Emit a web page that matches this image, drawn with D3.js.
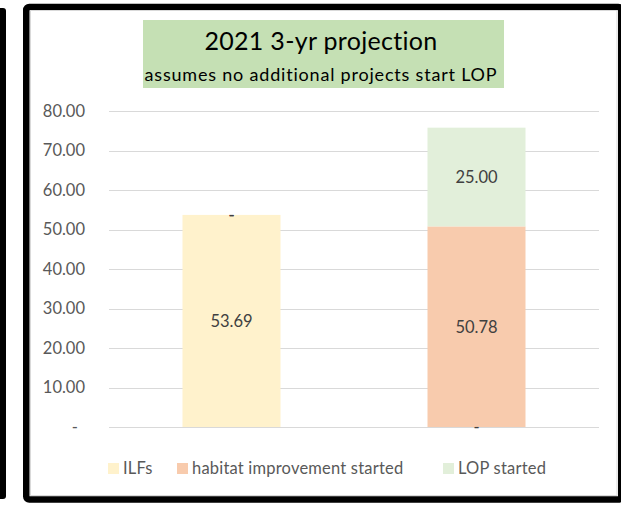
<!DOCTYPE html>
<html><head><meta charset="utf-8">
<script src="https://cdn.jsdelivr.net/npm/d3@7"></script>
<style>
html,body{margin:0;padding:0;background:#fff;}
svg{display:block;font-family:Lato, "Open Sans", sans-serif;}
</style></head>
<body>
<svg id="chart" width="621" height="506"></svg>
<script>
const categories = ["2021", "3-yr projection"];
const seriesNames = ["ILFs", "habitat improvement started", "LOP started"];
const ilfs = [53.69, 0];
const habitat = [0, 50.78];
const lop = [0, 25.00];
const yTicks = [0, 10, 20, 30, 40, 50, 60, 70, 80];
const titleText = "2021 3-yr projection";
const subtitleText = "assumes no additional projects start LOP";
const colors = ["#fff2cc", "#f8cbad", "#e2efda"];

const svg = d3.select("#chart");

// neighbouring chart edge on the left
svg.append("rect").attr("x", -20).attr("y", 8).attr("width", 26).attr("height", 491)
  .attr("rx", 3).attr("fill", "#000");

// outer thick border
svg.append("rect").attr("x", 26.25).attr("y", 7).attr("width", 595).attr("height", 492.5)
  .attr("rx", 3).attr("fill", "#fff").attr("stroke", "#000").attr("stroke-width", 6.5);
svg.append("rect").attr("x", 30.5).attr("y", 10.5).attr("width", 586.5).attr("height", 485)
  .attr("fill", "none").attr("stroke", "#d9d9d9").attr("stroke-width", 1);

// title box
svg.append("rect").attr("x", 143).attr("y", 20).attr("width", 361).attr("height", 68)
  .attr("fill", "#c5e0b4");
svg.append("text").attr("x", 321).attr("y", 50).attr("text-anchor", "middle")
  .attr("font-size", 25).attr("letter-spacing", 0.3).attr("fill", "#000").text(titleText);
svg.append("text").attr("x", 321).attr("y", 81).attr("text-anchor", "middle")
  .attr("font-size", 18).attr("letter-spacing", 0.8).attr("fill", "#000").text(subtitleText);

const x = d3.scaleBand().domain(categories).range([109, 599]).paddingInner(0.6).paddingOuter(0.3);
const y = d3.scaleLinear().domain([0, 80]).range([427, 111]);

// gridlines
svg.append("g").selectAll("line").data(yTicks).join("line")
  .attr("x1", 109).attr("x2", 599)
  .attr("y1", d => Math.round(y(d)) + 0.5).attr("y2", d => Math.round(y(d)) + 0.5)
  .attr("stroke", "#d9d9d9").attr("stroke-width", 1.2);

// y axis labels
const yAxis = d3.axisLeft(y).tickValues(yTicks).tickSize(0).tickPadding(0)
  .tickFormat(d => d === 0 ? "-" : d3.format(".2f")(d));
const gy = svg.append("g").attr("transform", "translate(85,0)").call(yAxis);
gy.select(".domain").remove();
gy.selectAll("text").attr("font-family", "Lato, sans-serif").attr("font-size", 16.5)
  .attr("fill", "#595959")
  .attr("dx", d => d === 0 ? -7 : 0);

// stacked bars
const table = categories.map((c, i) => ({cat: c, s0: ilfs[i], s1: habitat[i], s2: lop[i]}));
const stack = d3.stack().keys(["s0", "s1", "s2"]);
const layers = stack(table);

const g = svg.append("g");
layers.forEach((layer, li) => {
  g.append("g").selectAll("rect").data(layer).join("rect")
    .attr("x", d => x(d.data.cat))
    .attr("width", x.bandwidth())
    .attr("y", d => y(d[1]))
    .attr("height", d => y(d[0]) - y(d[1]))
    .attr("fill", colors[li]);
});
layers.forEach((layer, li) => {
  g.append("g").selectAll("text").data(layer).join("text")
    .attr("x", d => x(d.data.cat) + x.bandwidth() / 2)
    .attr("y", d => (y(d[0]) + y(d[1])) / 2)
    .attr("dy", "0.36em")
    .attr("text-anchor", "middle")
    .attr("font-size", 16.5).attr("fill", "#404040")
    .text(d => { const v = d[1] - d[0]; return v === 0 ? "-" : d3.format(".2f")(v); });
});

// legend
const legendX = [108, 177, 443];
const lg = svg.append("g");
seriesNames.forEach((name, i) => {
  lg.append("rect").attr("x", legendX[i]).attr("y", 463).attr("width", 11).attr("height", 11)
    .attr("fill", colors[i]);
  lg.append("text").attr("x", legendX[i] + 15).attr("y", 474)
    .attr("font-size", 16.5).attr("letter-spacing", 0.2).attr("fill", "#595959").text(name);
});
</script>
</body></html>
